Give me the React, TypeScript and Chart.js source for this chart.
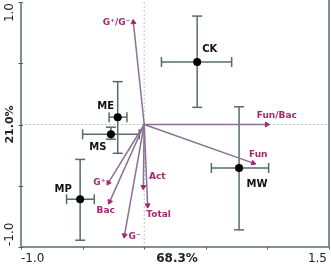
import React, { useEffect, useRef } from "react";
import { Chart, registerables } from "chart.js";

Chart.register(...registerables);

const samples = ["CK", "ME", "MS", "MP", "MW"];
const sampleX = [0.43, -0.215, -0.27, -0.52, 0.77];
const sampleY = [0.51, 0.06, -0.08, -0.61, -0.355];
const xErrLow = [0.14, -0.285, -0.5, -0.63, 0.545];
const xErrHigh = [0.71, -0.14, -0.04, -0.405, 1.01];
const yErrLow = [0.14, -0.235, -0.12, -0.945, -0.86];
const yErrHigh = [0.885, 0.35, -0.022, -0.285, 0.145];

const variables = ["G\u207A/G\u207B", "Fun/Bac", "Fun", "G\u207A", "Bac", "G\u207B", "Act", "Total"];
const arrowX = [-0.088, 0.995, 0.885, -0.29, -0.28, -0.16, -0.007, 0.028];
const arrowY = [0.835, 0, -0.315, -0.475, -0.63, -0.905, -0.51, -0.66];

const xTickValues = [-1, -0.5, 0, 0.5, 1, 1.5];
const yTickValues = [-1, -0.5, 0, 0.5, 1];
const xTickLabels = ["-1.0", "1.5"];
const yTickLabels = ["1.0", "-1.0"];
const xTitle = "68.3%";
const yTitle = "21.0%";

// label placement (pixel offsets from the mark, align)
const sampleLabelOffsets: [number, number, CanvasTextAlign][] = [
  [5, -13, "left"],
  [-12, -11, "center"],
  [-13, 13, "center"],
  [-17, -10, "center"],
  [18, 16, "center"],
];
const arrowLabelOffsets: [number, number, CanvasTextAlign][] = [
  [-3, 0, "right"],
  [10, -9, "center"],
  [5, -8, "center"],
  [-3, 0, "right"],
  [-4, 9, "center"],
  [4, 1, "left"],
  [14, -10, "center"],
  [11, 9, "center"],
];

const AXIS = "#7b9194";
const ERR = "#566b6e";
const ARROW = "#8b7095";
const HEAD = "#a3296f";
const FONT = "'DejaVu Sans', sans-serif";

export default function App() {
  const ref = useRef<HTMLCanvasElement>(null);
  useEffect(() => {
    if (!ref.current) return;
    const datasets: any[] = [];
    samples.forEach((_, i) => {
      datasets.push({
        data: [
          { x: xErrLow[i], y: sampleY[i] },
          { x: xErrHigh[i], y: sampleY[i] },
        ],
        showLine: true,
        borderColor: ERR,
        borderWidth: 1.5,
        pointStyle: "line",
        pointRadius: 5,
        pointRotation: 90,
        pointBorderColor: ERR,
        pointBorderWidth: 1.5,
        order: 5,
      });
      datasets.push({
        data: [
          { x: sampleX[i], y: yErrLow[i] },
          { x: sampleX[i], y: yErrHigh[i] },
        ],
        showLine: true,
        borderColor: ERR,
        borderWidth: 1.5,
        pointStyle: "line",
        pointRadius: 5,
        pointRotation: 0,
        pointBorderColor: ERR,
        pointBorderWidth: 1.5,
        order: 5,
      });
    });
    datasets.push({
      data: samples.map((_, i) => ({ x: sampleX[i], y: sampleY[i] })),
      pointRadius: 4,
      pointBackgroundColor: "#000",
      pointBorderColor: "#000",
      pointBorderWidth: 0,
      showLine: false,
      order: 4,
    });
    variables.forEach((_, i) => {
      datasets.push({
        data: [
          { x: 0, y: 0 },
          { x: arrowX[i], y: arrowY[i] },
        ],
        showLine: true,
        borderColor: ARROW,
        borderWidth: 1.5,
        pointStyle: "triangle",
        pointRadius: [0, 2.8],
        pointBackgroundColor: HEAD,
        pointBorderColor: HEAD,
        pointBorderWidth: 1,
        pointRotation: (ctx: any) => {
          const xs = ctx.chart.scales.x;
          const ys = ctx.chart.scales.y;
          const raw = ctx.raw;
          if (!raw || !xs || !ys) return 0;
          const sx = xs.getPixelForValue(raw.x) - xs.getPixelForValue(0);
          const sy = ys.getPixelForValue(raw.y) - ys.getPixelForValue(0);
          return (Math.atan2(sx, -sy) * 180) / Math.PI;
        },
        order: 1,
      });
    });

    const decor = {
      id: "decor",
      beforeDatasetsDraw(chart: any) {
        const { ctx, chartArea: a, scales } = chart;
        const x0 = scales.x.getPixelForValue(0);
        const y0 = scales.y.getPixelForValue(0);
        ctx.save();
        ctx.strokeStyle = "#b3c5c7";
        ctx.lineWidth = 1;
        ctx.setLineDash([2, 2]);
        ctx.beginPath();
        ctx.moveTo(x0, a.top);
        ctx.lineTo(x0, a.bottom);
        ctx.moveTo(a.left, y0);
        ctx.lineTo(a.right, y0);
        ctx.stroke();
        ctx.restore();
      },
      afterDatasetsDraw(chart: any) {
        const { ctx, chartArea: a, scales } = chart;
        const xs = scales.x;
        const ys = scales.y;
        ctx.save();
        // axes
        ctx.strokeStyle = AXIS;
        ctx.lineWidth = 2;
        ctx.beginPath();
        ctx.moveTo(a.left, a.top);
        ctx.lineTo(a.left, a.bottom);
        ctx.lineTo(a.right, a.bottom);
        ctx.lineTo(a.right, 0);
        ctx.stroke();
        ctx.strokeStyle = "#4d6063";
        ctx.lineWidth = 1;
        ctx.beginPath();
        xTickValues.forEach((v) => {
          const px = Math.round(xs.getPixelForValue(v)) + 0.5;
          ctx.moveTo(px, a.bottom);
          ctx.lineTo(px, a.bottom + 2.5);
        });
        yTickValues.forEach((v) => {
          const py = Math.round(ys.getPixelForValue(v)) + 0.5;
          ctx.moveTo(a.left - 2.5, py);
          ctx.lineTo(a.left + 2, py);
        });
        ctx.stroke();

        // tick labels
        ctx.fillStyle = "#222";
        ctx.font = `12px ${FONT}`;
        ctx.textBaseline = "middle";
        ctx.textAlign = "left";
        ctx.fillText(xTickLabels[0], xs.getPixelForValue(-1), 258.5);
        ctx.textAlign = "right";
        ctx.fillText(xTickLabels[1], xs.getPixelForValue(1.5) - 2, 258.5);
        ctx.font = `bold 12px ${FONT}`;
        ctx.textAlign = "center";
        ctx.fillText(xTitle, (a.left + a.right) / 2 + 2, 259);

        ctx.save();
        ctx.translate(10, ys.getPixelForValue(1) + 1);
        ctx.rotate(-Math.PI / 2);
        ctx.font = `12px ${FONT}`;
        ctx.textAlign = "right";
        ctx.fillText(yTickLabels[0], 0, 0);
        ctx.restore();
        ctx.save();
        ctx.translate(10, ys.getPixelForValue(-1) - 1);
        ctx.rotate(-Math.PI / 2);
        ctx.font = `12px ${FONT}`;
        ctx.textAlign = "left";
        ctx.fillText(yTickLabels[1], 0, 0);
        ctx.restore();
        ctx.save();
        ctx.translate(10, (a.top + a.bottom) / 2);
        ctx.rotate(-Math.PI / 2);
        ctx.font = `bold 11px ${FONT}`;
        ctx.textAlign = "center";
        ctx.fillText(yTitle, 0, 0);
        ctx.restore();

        // sample labels
        ctx.fillStyle = "#111";
        ctx.font = `bold 10px ${FONT}`;
        samples.forEach((s, i) => {
          const [dx, dy, al] = sampleLabelOffsets[i];
          ctx.textAlign = al;
          ctx.fillText(s, xs.getPixelForValue(sampleX[i]) + dx, ys.getPixelForValue(sampleY[i]) + dy);
        });
        // variable labels
        ctx.fillStyle = HEAD;
        ctx.font = `bold 9px ${FONT}`;
        variables.forEach((s, i) => {
          const [dx, dy, al] = arrowLabelOffsets[i];
          ctx.textAlign = al;
          ctx.fillText(s, xs.getPixelForValue(arrowX[i]) + dx, ys.getPixelForValue(arrowY[i]) + dy);
        });
        ctx.restore();
      },
    };

    const chart = new Chart(ref.current, {
      type: "scatter",
      data: { datasets },
      options: {
        animation: false,
        responsive: false,
        devicePixelRatio: 1,
        layout: { autoPadding: false, padding: { left: 21, right: 2, top: 2, bottom: 20 } },
        plugins: { legend: { display: false }, tooltip: { enabled: false } },
        scales: {
          x: { type: "linear", min: -1, max: 1.5, display: false },
          y: { type: "linear", min: -1, max: 1, display: false },
        },
      },
      plugins: [decor],
    });
    return () => chart.destroy();
  }, []);
  return (
    <div style={{ position: "absolute", left: 0, top: 0, width: 331, height: 267, background: "#fff" }}>
      <canvas ref={ref} width={331} height={267} />
    </div>
  );
}
